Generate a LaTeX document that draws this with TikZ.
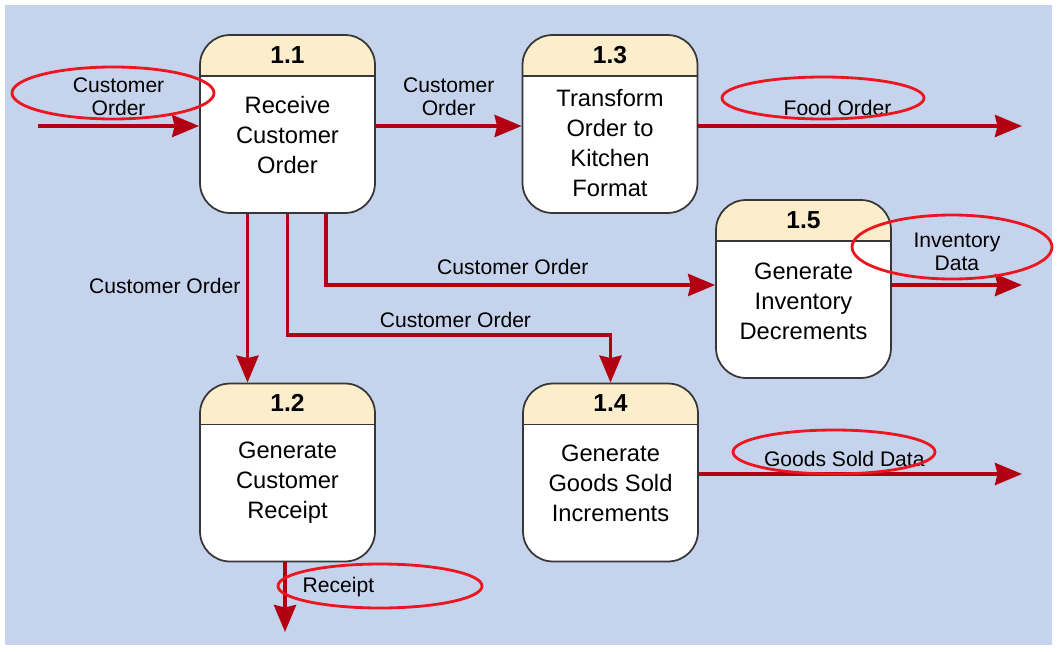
\documentclass[tikz,border=0pt]{standalone}
\usepackage{fontspec}
\setmainfont{Liberation Sans}
\usetikzlibrary{positioning,arrows.meta}
\definecolor{bgblue}{RGB}{197,211,236}
\definecolor{headfill}{RGB}{253,238,203}
\definecolor{flowred}{RGB}{178,0,18}
\definecolor{markred}{RGB}{236,22,32}
\definecolor{edgegray}{RGB}{55,55,55}
\tikzset{
  procbox/.style ={rectangle, rounded corners=0.6cm, draw=edgegray, line width=1pt,
                   fill=white, minimum width=3.5cm, minimum height=3.56cm, inner sep=0pt,
                   path picture={
                     \fill[headfill] ([xshift=-1cm,yshift=1cm]path picture bounding box.north west)
                       rectangle ([xshift=1cm,yshift=-0.82cm]path picture bounding box.north east);
                     \draw[edgegray, line width=1pt]
                       ([xshift=-1cm,yshift=-0.82cm]path picture bounding box.north west)
                       -- ([xshift=1cm,yshift=-0.82cm]path picture bounding box.north east);}},
  numtxt/.style  ={font=\fontsize{14}{16}\selectfont\bfseries, inner sep=0pt},
  bodytxt/.style ={font=\fontsize{13.5}{17}\selectfont, align=center, inner sep=0pt},
  flow/.style    ={-{Stealth[length=0.54cm, width=0.44cm, inset=0.05cm]}, draw=flowred,
                   line width=2.2pt},
  lbl/.style     ={font=\fontsize{12}{13}\selectfont, align=center, inner sep=3pt},
  hilite/.style  ={draw=markred, line width=1.6pt}
}
\begin{document}
\begin{tikzpicture}[x=0.02cm,y=-0.02cm]
\useasboundingbox (0,0) rectangle (1061,652);
\fill[bgblue] (5,5) rectangle (1052,645);
%% processes
\node[procbox] (p11) at (287.5,124) {};
\node[numtxt]  (p11n) at (287.5,55) {1.1};
\node[bodytxt] (p11t) at (287.5,135) {Receive\\Customer\\Order};
\node[procbox] (p13) at (610,124) {};
\node[numtxt]  (p13n) at (610,55) {1.3};
\node[bodytxt] (p13t) at (610,143) {Transform\\Order to\\Kitchen\\Format};
\node[procbox] (p15) at (803.5,289) {};
\node[numtxt]  (p15n) at (803.5,220) {1.5};
\node[bodytxt] (p15t) at (803.5,301) {Generate\\Inventory\\Decrements};
\node[procbox] (p12) at (287.5,472.5) {};
\node[numtxt]  (p12n) at (287.5,403) {1.2};
\node[bodytxt] (p12t) at (287.5,483) {Generate\\Customer\\Receipt};
\node[procbox] (p14) at (610.5,472.5) {};
\node[numtxt]  (p14n) at (610.5,403) {1.4};
\node[bodytxt] (p14t) at (610.5,483) {Generate\\Goods Sold\\Increments};
%% free ends
\coordinate (cin)  at (38,126);
\coordinate (food) at (1022,126);
\coordinate (inv)  at (1022,285);
\coordinate (gsd)  at (1022,474);
\coordinate (rcp)  at (285,632);

\draw[flow] (cin) -- node[lbl,above,yshift=2pt]{Customer\\Order} (p11.west |- cin);
\draw[flow] (p11.east |- cin) -- node[lbl,above,yshift=2pt]{Customer\\Order} (p13.west |- cin);
\draw[flow] (p13.east |- food) -- node[lbl,above,pos=0.43,yshift=2pt]{Food Order} (food);
\draw[flow] ([xshift=-0.8cm]p11.south) -- node[lbl,left,pos=0.43]{Customer Order}
      ([xshift=-0.8cm]p12.north);
\draw[flow] (p11.south) -- ++(0,121) -| node[lbl,above,pos=0.26]{Customer Order} (p14.north);
\draw[flow] ([xshift=0.77cm]p11.south) |- node[lbl,above,pos=0.74,yshift=2pt]{Customer Order}
      (p15.west |- inv);
\draw[flow] (p15.east |- inv) -- node[lbl,above,yshift=4pt]{Inventory\\Data} (inv);
\draw[flow] (p14.east |- gsd) -- node[lbl,above,pos=0.45]{Goods Sold Data} (gsd);
\draw[flow] (p12.south -| rcp) -- node[lbl,right,pos=0.35,xshift=6pt]{Receipt} (rcp);

%% red marks
\draw[hilite] (113,93)  ellipse [x radius=101, y radius=26];
\draw[hilite] (823,98)  ellipse [x radius=101, y radius=21];
\draw[hilite] (952,247) ellipse [x radius=100, y radius=32];
\draw[hilite] (834,452) ellipse [x radius=101, y radius=22];
\draw[hilite] (380,586) ellipse [x radius=102, y radius=22];
\end{tikzpicture}
\end{document}
